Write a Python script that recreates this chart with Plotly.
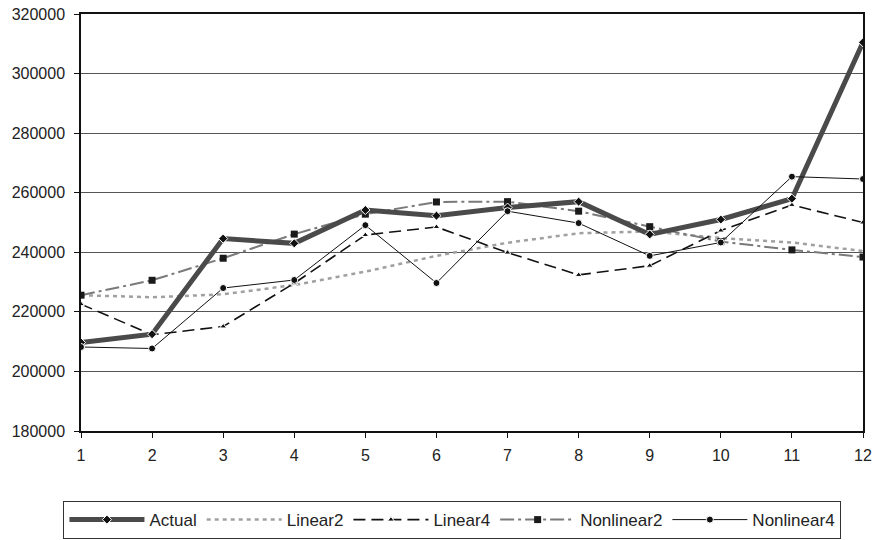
import plotly.graph_objects as go

# Period index on the horizontal axis
periods = list(range(1, 13))

# Observed series and the four fitted models
actual = [209700, 212500, 244600, 243000, 254200, 252300, 255000, 257000, 246000, 251000, 258000, 310500]
linear2 = [225600, 224900, 225900, 229000, 233500, 238800, 243200, 246400, 247000, 244800, 243300, 240400]
linear4 = [222600, 212300, 215100, 229600, 245800, 248500, 239900, 232400, 235500, 247300, 255900, 250000]
nonlinear2 = [225600, 230600, 238000, 246100, 252800, 256900, 257000, 253800, 248600, 243600, 240800, 238400]
nonlinear4 = [208200, 207700, 228000, 230700, 249100, 229700, 253800, 249800, 238800, 243300, 265400, 264600]

y_ticks = list(range(180000, 320001, 20000))

fig = go.Figure()

fig.add_trace(go.Scatter(
    x=periods, y=linear2, name="Linear2", mode="lines", legendrank=2,
    line=dict(color="#a0a0a0", width=2.5, dash="4px,4px"),
))
fig.add_trace(go.Scatter(
    x=periods, y=nonlinear2, name="Nonlinear2", mode="lines+markers", legendrank=4,
    line=dict(color="#7a7a7a", width=2, dash="14px,4px,3px,4px"),
    marker=dict(symbol="square", size=7, color="#1a1a1a"),
))
fig.add_trace(go.Scatter(
    x=periods, y=linear4, name="Linear4", mode="lines+markers", legendrank=3,
    line=dict(color="#111111", width=1.6, dash="12px,6px"),
    marker=dict(symbol="triangle-up", size=6, color="#111111",
                line=dict(color="white", width=1)),
))
fig.add_trace(go.Scatter(
    x=periods, y=actual, name="Actual", mode="lines+markers", legendrank=1,
    line=dict(color="#4a4a4a", width=5),
    marker=dict(symbol="diamond", size=7, color="#111111",
                line=dict(color="white", width=1)),
))
fig.add_trace(go.Scatter(
    x=periods, y=nonlinear4, name="Nonlinear4", mode="lines+markers", legendrank=5,
    line=dict(color="#111111", width=1),
    marker=dict(symbol="circle", size=7, color="#111111",
                line=dict(color="white", width=1)),
))

axis_font = dict(family="Liberation Sans, Arial, sans-serif", size=16, color="#222222")

fig.update_layout(
    width=873, height=540,
    margin=dict(l=81, r=10, t=14, b=109, autoexpand=False),
    paper_bgcolor="white", plot_bgcolor="white",
    font=axis_font,
    showlegend=True,
    legend=dict(
        orientation="h", x=0.475, xanchor="center", y=-0.168, yanchor="top",
        bordercolor="#333333", borderwidth=1, font=dict(size=17),
        itemwidth=75, traceorder="normal",
    ),
    xaxis=dict(
        range=[1, 12], tickmode="array", tickvals=periods,
        ticks="outside", ticklen=5, tickcolor="#111111",
        ticklabelstandoff=4,
        showgrid=False, zeroline=False,
        showline=True, linecolor="#111111", linewidth=1.5, mirror=True,
        tickfont=axis_font,
    ),
    yaxis=dict(
        range=[180000, 320000], tickmode="array", tickvals=y_ticks,
        ticktext=[str(v) for v in y_ticks],
        ticks="outside", ticklen=5, tickcolor="#111111",
        ticklabelstandoff=6,
        showgrid=True, gridcolor="#555555", gridwidth=1, zeroline=False,
        showline=True, linecolor="#111111", linewidth=1.5, mirror=True,
        tickfont=axis_font,
    ),
)

fig.write_html("out.html")
